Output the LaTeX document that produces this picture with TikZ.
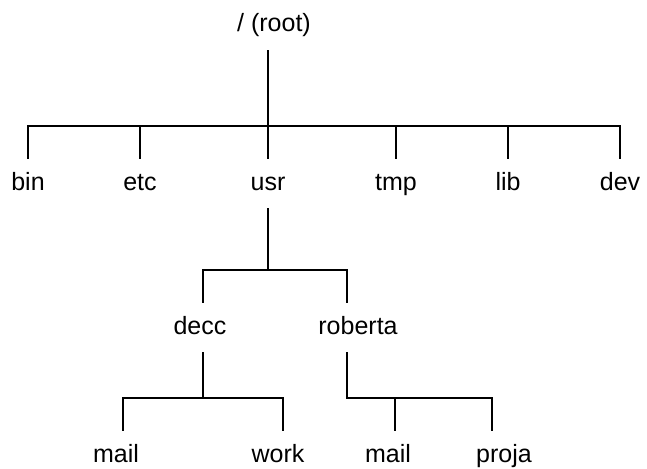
\documentclass[tikz,border=0pt]{standalone}
\usepackage{fontspec}
\setmainfont{Liberation Sans}
\begin{document}
\begin{tikzpicture}[x=1pt,y=-1pt,
  lbl/.style={font=\fontsize{25}{30}\selectfont, text height=18pt, text depth=5pt,
              inner xsep=0pt, inner ysep=13pt, anchor=base},
  wire/.style={line width=1.7pt}]

%% some definitions

\def\yroot{32}  % baseline of the root
\def\ytop{190}  % baseline of first level
\def\ymid{334}  % baseline of second level
\def\ylow{462}  % baseline of third level

\useasboundingbox (0,0) rectangle (647,468);

%% directory names
\node[lbl] (root) at (274,\yroot) {/ (root)};

\node[lbl] (bin) at (28,\ytop) {bin};
\node[lbl] (etc) at (140,\ytop) {etc};
\node[lbl] (usr) at (268,\ytop) {usr};
\node[lbl] (tmp) at (396,\ytop) {tmp};
\node[lbl] (lib) at (508,\ytop) {lib};
\node[lbl] (dev) at (620,\ytop) {dev};

\node[lbl] (decc) at (200,\ymid) {decc};
\node[lbl] (roberta) at (358,\ymid) {roberta};

\node[lbl] (mailA) at (116,\ylow) {mail};
\node[lbl] (work) at (278,\ylow) {work};
\node[lbl] (mailB) at (388,\ylow) {mail};
\node[lbl] (proja) at (504,\ylow) {proja};

%% junctions of the bars
\coordinate (topbar) at (268,126);
\coordinate (usrbar) at (268,270);
\coordinate (deccbar) at (203,398);
\coordinate (robbar) at (347,398);

%% connectors
\draw[wire] (root.south -| topbar) -- (topbar);
\draw[wire] (bin.north) |- (dev.north |- topbar) -- (dev.north);
\foreach \n in {etc,usr,tmp,lib}
  \draw[wire] (\n.north) -- (\n.north |- topbar);

\draw[wire] (usr.south) -- (usrbar);
\draw[wire] ([xshift=3pt]decc.north) |- ([xshift=-11pt]roberta.north |- usrbar) -- ([xshift=-11pt]roberta.north);

\draw[wire] ([xshift=3pt]decc.south) -- (deccbar);
\draw[wire] ([xshift=7pt]mailA.north) |- ([xshift=5pt]work.north |- deccbar) -- ([xshift=5pt]work.north);

\draw[wire] ([xshift=-11pt]roberta.south) -- (robbar) -| ([xshift=-12pt]proja.north);
\draw[wire] ([xshift=7pt]mailB.north) -- ([xshift=7pt]mailB.north |- robbar);

\end{tikzpicture}
\end{document}
